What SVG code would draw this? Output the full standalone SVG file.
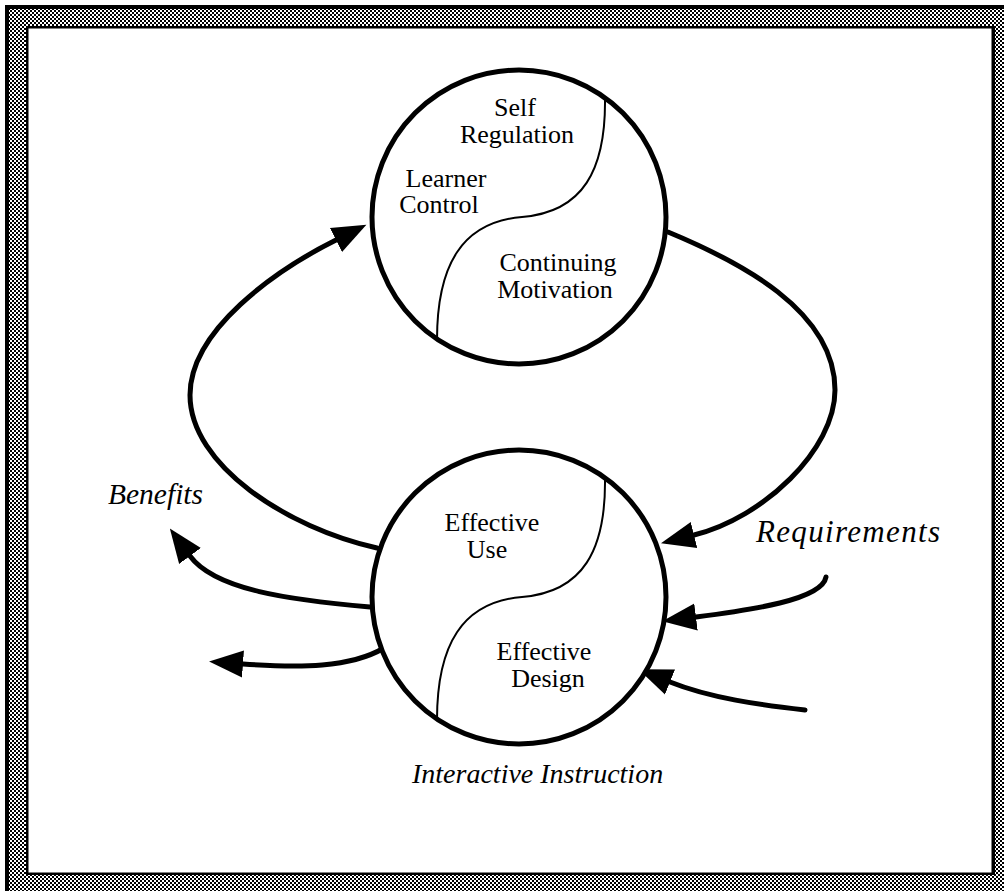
<svg xmlns="http://www.w3.org/2000/svg" width="1004" height="891" viewBox="0 0 1004 891">
<style>
.ring{fill:#fff;stroke:#000;stroke-width:5}
.div{fill:none;stroke:#000;stroke-width:2}
.lbl{font-family:"Liberation Serif","Times New Roman",serif;font-size:26px;fill:#000;text-anchor:middle}
.ital{font-family:"Liberation Serif","Times New Roman",serif;font-style:italic;fill:#000}
.con{fill:none;stroke:#000;stroke-width:5;stroke-linecap:round}
</style>
<defs>
<pattern id="dither" width="4" height="4" patternUnits="userSpaceOnUse">
<rect width="4" height="4" fill="#fff"/>
<rect width="2" height="2" fill="#000"/>
<rect x="2" y="2" width="2" height="2" fill="#000"/>
</pattern>
<marker id="ah" markerUnits="userSpaceOnUse" markerWidth="40" markerHeight="32" refX="0" refY="16" orient="auto" viewBox="0 0 40 32">
<path d="M0,2.5 L34,16 L0,29.5 Z" fill="#000"/>
</marker>
</defs>
<g id="frame">
<rect x="5" y="5" width="999" height="886" fill="#000"/>
<rect x="9" y="9" width="995" height="882" fill="url(#dither)"/>
<rect x="26" y="26" width="969" height="849" fill="#000"/>
<rect x="28.5" y="28.5" width="963" height="844" fill="#fff"/>
</g>
<g id="connectors">
<path class="con" d="M377,548 C287,528 190,465 190,395 C190,330 276,270 336,240" marker-end="url(#ah)"/>
<path class="con" d="M668,232 C738,261 835,310 835,390 C835,450 763,518 694,535" marker-end="url(#ah)"/>
<path class="con" d="M370,607 C290,600 215,590 190,556" marker-end="url(#ah)"/>
<path class="con" d="M384,648 C350,668 300,668 243,664" marker-end="url(#ah)"/>
<path class="con" d="M826,577 C822,600 750,610 696,617" marker-end="url(#ah)"/>
<path class="con" d="M805,710 C760,705 710,698 670,682" marker-end="url(#ah)"/>
</g>
<g id="node-top">
<circle class="ring" cx="519" cy="217" r="147"/>
<path class="div" d="M605,98 C606,170 583,212 522,217 C462,222 437,265 437,340"/>
<text class="lbl" x="515" y="116">Self</text>
<text class="lbl" x="517" y="143">Regulation</text>
<text class="lbl" x="446" y="187">Learner</text>
<text class="lbl" x="439" y="213">Control</text>
<text class="lbl" x="558" y="271">Continuing</text>
<text class="lbl" x="555" y="298">Motivation</text>
</g>
<g id="node-bottom">
<circle class="ring" cx="519" cy="597" r="147"/>
<path class="div" d="M605,478 C606,550 583,592 522,597 C462,602 437,645 437,720"/>
<text class="lbl" x="492" y="531">Effective</text>
<text class="lbl" x="487" y="558">Use</text>
<text class="lbl" x="544" y="660">Effective</text>
<text class="lbl" x="548" y="687">Design</text>
</g>
<g id="labels">
<text class="ital" x="108" y="504" font-size="29.5">Benefits</text>
<text class="ital" x="756" y="542" font-size="31" textLength="184" lengthAdjust="spacing">Requirements</text>
<text class="ital" x="412" y="783" font-size="28">Interactive Instruction</text>
</g>
</svg>
